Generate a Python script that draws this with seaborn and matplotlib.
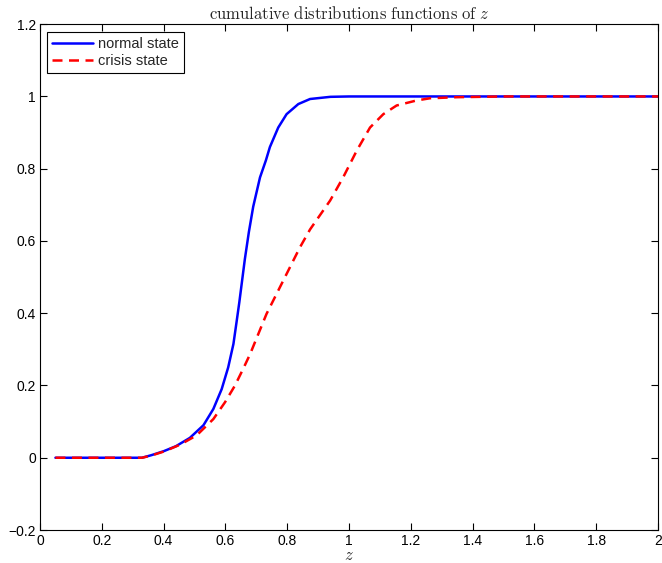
import matplotlib
matplotlib.use("Agg")
import matplotlib.pyplot as plt
import seaborn as sns

# values
z_normal = [0.05, 0.10, 0.20, 0.30, 0.33, 0.36, 0.40, 0.44, 0.485, 0.529, 0.561,
            0.588, 0.609, 0.626, 0.636, 0.645, 0.654, 0.663, 0.676, 0.69, 0.712,
            0.731, 0.744, 0.771, 0.798, 0.836, 0.874, 0.94, 1.0, 1.2, 1.5, 2.0]
cdf_normal = [0.0, 0.0, 0.0, 0.0, 0.0, 0.007, 0.018, 0.032, 0.055, 0.09, 0.135,
              0.19, 0.25, 0.315, 0.375, 0.43, 0.49, 0.55, 0.625, 0.695, 0.776,
              0.823, 0.86, 0.914, 0.951, 0.979, 0.993, 0.999, 1.0, 1.0, 1.0, 1.0]

z_crisis = [0.05, 0.10, 0.20, 0.30, 0.33, 0.36, 0.40, 0.453, 0.507, 0.561, 0.599,
            0.631, 0.658, 0.68, 0.733, 0.787, 0.841, 0.874, 0.939, 0.981, 1.025,
            1.068, 1.111, 1.154, 1.219, 1.262, 1.35, 1.5, 1.7, 2.0]
cdf_crisis = [0.0, 0.0, 0.0, 0.0, 0.0, 0.006, 0.017, 0.036, 0.062, 0.107, 0.154,
              0.2, 0.247, 0.287, 0.398, 0.49, 0.582, 0.632, 0.712, 0.776, 0.85,
              0.914, 0.951, 0.975, 0.989, 0.995, 0.998, 1.0, 1.0, 1.0]

x_ticks = [0, 0.2, 0.4, 0.6, 0.8, 1, 1.2, 1.4, 1.6, 1.8, 2]
y_ticks = [-0.2, 0, 0.2, 0.4, 0.6, 0.8, 1, 1.2]

sns.set_style("ticks")
plt.rcParams['font.family'] = ['Liberation Sans', 'DejaVu Sans']
plt.rcParams['mathtext.fontset'] = 'cm'
plt.rcParams['xtick.direction'] = 'in'
plt.rcParams['ytick.direction'] = 'in'

fig = plt.figure(figsize=(6.62, 5.63), dpi=100)
ax = fig.add_axes([0.0604, 0.0586, 0.9336, 0.8984])

sns.lineplot(x=z_normal, y=cdf_normal, ax=ax, color='#0000ff', linewidth=1.8,
             label='normal state', sort=False)
sns.lineplot(x=z_crisis, y=cdf_crisis, ax=ax, color='#ff0000', linewidth=1.8,
             label='crisis state', sort=False)
ax.lines[1].set_linestyle((0, (4, 2.6)))

ax.set_xlim(0, 2)
ax.set_ylim(-0.2, 1.2)
ax.set_xticks(x_ticks)
ax.set_yticks(y_ticks)
ax.set_xticklabels([f"{t:g}" for t in x_ticks])
ax.set_yticklabels([f"{t:g}".replace('-', '\u2212') for t in y_ticks])
ax.tick_params(axis='both', which='both', top=True, right=True, length=5,
               width=0.8, labelsize=10, colors='black', pad=3)
for s in ax.spines.values():
    s.set_visible(True)
    s.set_color('black')
    s.set_linewidth(0.8)

ax.set_title(r"$\mathrm{cumulative\ distributions\ functions\ of}\ z$",
             fontsize=12, pad=4)
ax.set_xlabel("$z$", fontsize=12, labelpad=0)
ax.set_ylabel("")

leg = ax.legend(loc='upper left', fontsize=10.5, frameon=True, fancybox=False,
                edgecolor='black', framealpha=1, borderpad=0.35,
                handlelength=2.8, handletextpad=0.3, labelspacing=0.25,
                borderaxespad=0.5)
leg.get_frame().set_linewidth(0.8)

fig.savefig("out.png", dpi=100)
